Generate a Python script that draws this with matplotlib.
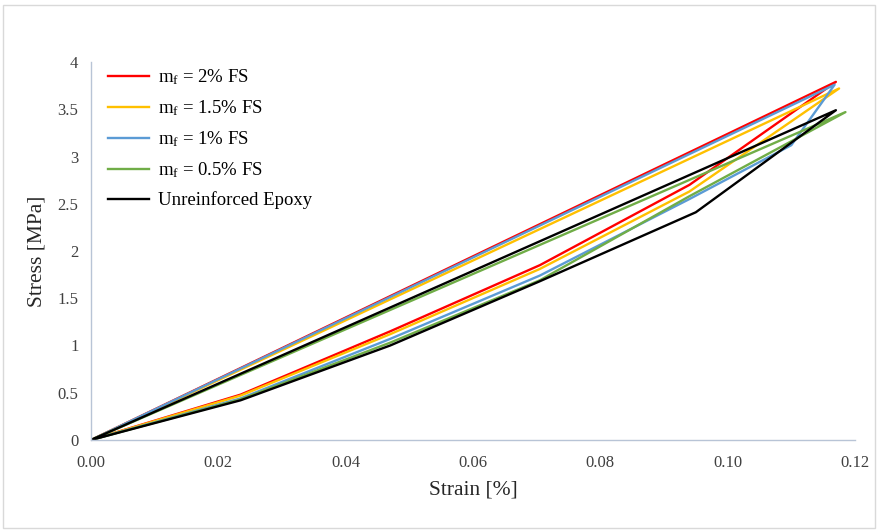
import matplotlib
matplotlib.use("Agg")
import matplotlib.pyplot as plt
from matplotlib.patches import Rectangle

plt.rcParams['font.family'] = ['Liberation Serif', 'DejaVu Serif']
plt.rcParams['mathtext.fontset'] = 'custom'
plt.rcParams['mathtext.rm'] = 'Liberation Serif'
plt.rcParams['mathtext.it'] = 'Liberation Serif:italic'

# loading branch (strain %, stress MPa); unloading goes straight back to origin
labels = [r"$\mathrm{m_f}$ = 2% FS", r"$\mathrm{m_f}$ = 1.5% FS", r"$\mathrm{m_f}$ = 1% FS",
          r"$\mathrm{m_f}$ = 0.5% FS", "Unreinforced Epoxy"]
colors = ["#FF0000", "#FFC000", "#5B9BD5", "#70AD47", "#000000"]

strain_2 = [0, 0.0235, 0.047, 0.0705, 0.094, 0.117]
stress_2 = [0, 0.48, 1.15, 1.85, 2.70, 3.79]
strain_15 = [0, 0.0235, 0.047, 0.0705, 0.094, 0.1175]
stress_15 = [0, 0.47, 1.12, 1.81, 2.63, 3.72]
strain_1 = [0, 0.0235, 0.047, 0.0705, 0.094, 0.110, 0.1168]
stress_1 = [0, 0.44, 1.07, 1.74, 2.55, 3.12, 3.76]
strain_05 = [0, 0.0235, 0.047, 0.0705, 0.094, 0.1185]
stress_05 = [0, 0.43, 1.03, 1.69, 2.58, 3.47]
strain_ep = [0, 0.0235, 0.047, 0.0705, 0.095, 0.117]
stress_ep = [0, 0.42, 1.00, 1.68, 2.41, 3.49]

strains = [strain_2, strain_15, strain_1, strain_05, strain_ep]
stresses = [stress_2, stress_15, stress_1, stress_05, stress_ep]

fig = plt.figure(figsize=(8.78, 5.31), dpi=100)
ax = fig.add_axes([0.1036, 0.1714, 0.8702, 0.7118])

for x, y, c, lab in zip(strains, stresses, colors, labels):
    xs = list(x) + [0]
    ys = list(y) + [0]
    ax.plot(xs, ys, color=c, lw=1.7, label=lab)

ax.set_xlim(0, 0.12)
ax.set_ylim(0, 4)
ax.set_xticks([0, 0.02, 0.04, 0.06, 0.08, 0.10, 0.12])
ax.set_xticklabels(["0.00", "0.02", "0.04", "0.06", "0.08", "0.10", "0.12"])
ax.set_yticks([0, 0.5, 1, 1.5, 2, 2.5, 3, 3.5, 4])
ax.set_yticklabels(["0", "0.5", "1", "1.5", "2", "2.5", "3", "3.5", "4"])
ax.tick_params(axis="x", length=0, labelsize=12, colors="#404040", pad=11)
ax.tick_params(axis="y", length=0, labelsize=12, colors="#404040", pad=9)
for s in ["top", "right"]:
    ax.spines[s].set_visible(False)
for s in ["left", "bottom"]:
    ax.spines[s].set_color("#B8C4D6")
    ax.spines[s].set_linewidth(1.0)

ax.set_xlabel("Strain [%]", fontsize=15.5, color="#262626", labelpad=7)
ax.set_ylabel("Stress [MPa]", fontsize=15.5, color="#262626", labelpad=8)

leg = ax.legend(loc="upper left", bbox_to_anchor=(0.0, 1.03), frameon=False,
                fontsize=13.5, handlelength=2.2, labelspacing=0.6, handletextpad=0.5)

fig.patches.append(Rectangle((0.003, 0.006), 0.994, 0.985, transform=fig.transFigure,
                             fill=False, edgecolor="#D9D9D9", lw=1.0))

fig.savefig("out.png", dpi=100)
